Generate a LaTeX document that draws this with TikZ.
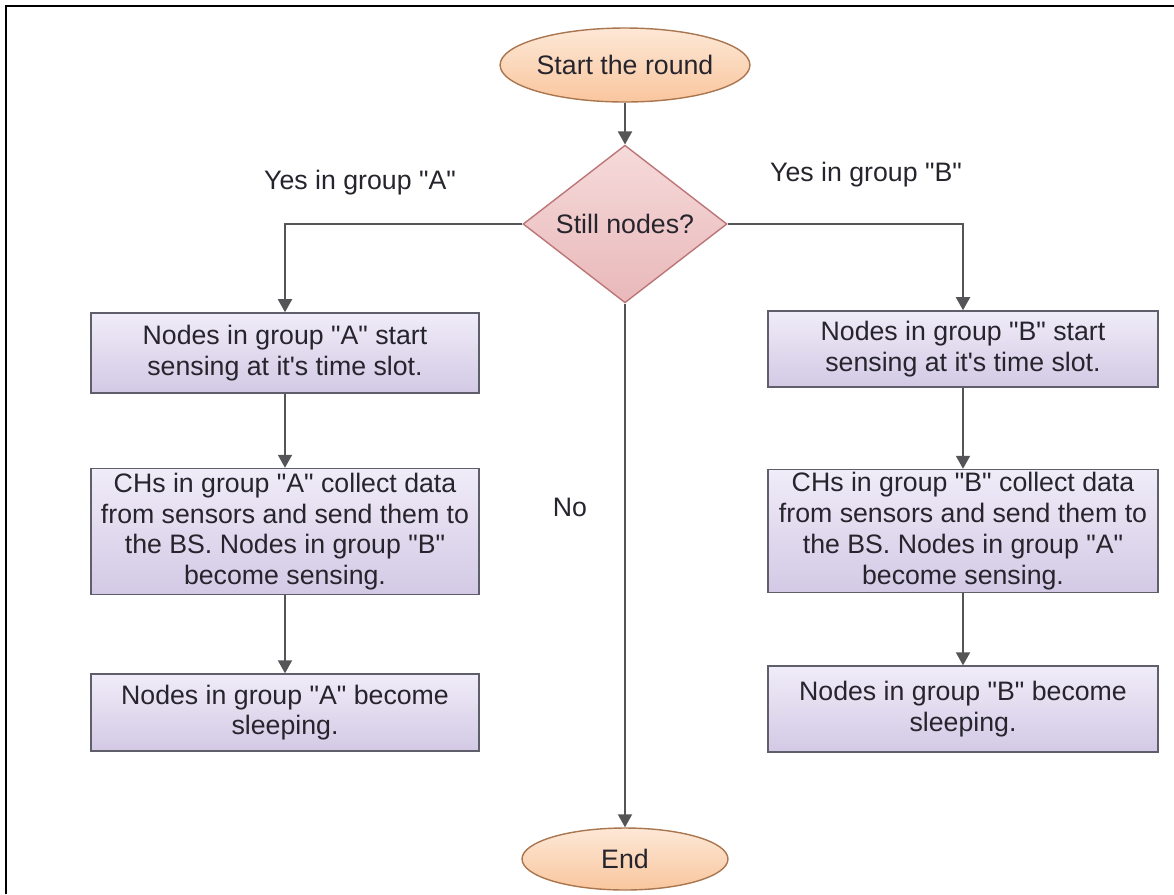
\documentclass[tikz,border=0pt]{standalone}
\usepackage{fontspec}
\setmainfont{Liberation Sans}[Ligatures=TeXOff]
\usetikzlibrary{positioning,arrows.meta,shapes.geometric}
\definecolor{termtop}{RGB}{253,232,214}
\definecolor{termbot}{RGB}{249,198,158}
\definecolor{termline}{RGB}{170,118,80}
\definecolor{dectop}{RGB}{246,218,218}
\definecolor{decbot}{RGB}{233,184,186}
\definecolor{decline}{RGB}{188,118,120}
\definecolor{blocktop}{RGB}{240,236,248}
\definecolor{blockbot}{RGB}{211,201,229}
\definecolor{blockline}{RGB}{95,95,108}
\definecolor{arrowcolor}{RGB}{85,85,88}
\definecolor{txtcolor}{RGB}{38,36,44}

\begin{document}
\begin{tikzpicture}[
  x=0.02cm, y=-0.02cm,
  node distance=1.5cm,
  >={Triangle[width=0.28cm,length=0.26cm]},
  font=\fontsize{15.2}{17.6}\selectfont,
  every node/.style={text=txtcolor},
  term/.style={ellipse, draw=termline, top color=termtop, bottom color=termbot, line width=0.8pt, minimum width=4.12cm, inner sep=0pt},
  decision/.style={diamond, draw=decline, top color=dectop, bottom color=decbot, line width=0.8pt, minimum width=4.08cm, minimum height=2.32cm, inner sep=0pt},
  block/.style={rectangle, draw=blockline, top color=blocktop, bottom color=blockbot, line width=0.9pt, align=center, inner sep=0pt},
  blockA/.style={block, minimum width=7.76cm},
  blockB/.style={block, minimum width=7.8cm},
  arr/.style={->, line width=1.1pt, color=arrowcolor},
  lbl/.style={inner sep=0pt},
]
\useasboundingbox (0,0) rectangle (1174,894);

% frame
\draw[line width=1.5pt] (6,894) -- (6,6) -- (1174,6);

% === Main path ===
\node[term, minimum height=1.48cm] (start) at (625,65) {Start the round};
\node[decision] (still) at (625,224) {Still nodes?};
\node[term, minimum height=1.24cm] (stop) at (625,859) {End};

% === Group A (left) ===
\node[blockA, minimum height=1.6cm] (grpAsense) at (285,353) {Nodes in group "A" start\\sensing at it's time slot.};
\node[blockA, minimum height=2.52cm, below=1.48cm of grpAsense] (grpAcollect) {CHs in group "A" collect data\\from sensors and send them to\\the BS. Nodes in group "B"\\become sensing.};
\node[blockA, minimum height=1.54cm, below=1.56cm of grpAcollect] (grpAsleep) {Nodes in group "A" become\\sleeping.};

% === Group B (right) ===
\node[blockB, minimum height=1.52cm] (grpBsense) at (963,349) {Nodes in group "B" start\\sensing at it's time slot.};
\node[blockB, minimum height=2.46cm, below=1.62cm of grpBsense] (grpBcollect) {CHs in group "B" collect data\\from sensors and send them to\\the BS. Nodes in group "A"\\become sensing.};
\node[blockB, minimum height=1.72cm, below=1.44cm of grpBcollect] (grpBsleep) {Nodes in group "B" become\\sleeping.};

% labels
\node[lbl] (yesA) at (360,183) {Yes in group "A"};
\node[lbl] (yesB) at (866,175) {Yes in group "B"};
\node[lbl] (no) at (570,507) {No};

% === Arrows ===
\draw[arr] (start) -- (still);
\draw[arr] (still.west) -| (grpAsense.north);
\draw[arr] (still.east) -| (grpBsense.north);
\draw[arr] (still.south) -- (stop.north);
\draw[arr] (grpAsense) -- (grpAcollect);
\draw[arr] (grpAcollect) -- (grpAsleep);
\draw[arr] (grpBsense) -- (grpBcollect);
\draw[arr] (grpBcollect) -- (grpBsleep);

\end{tikzpicture}
\end{document}
